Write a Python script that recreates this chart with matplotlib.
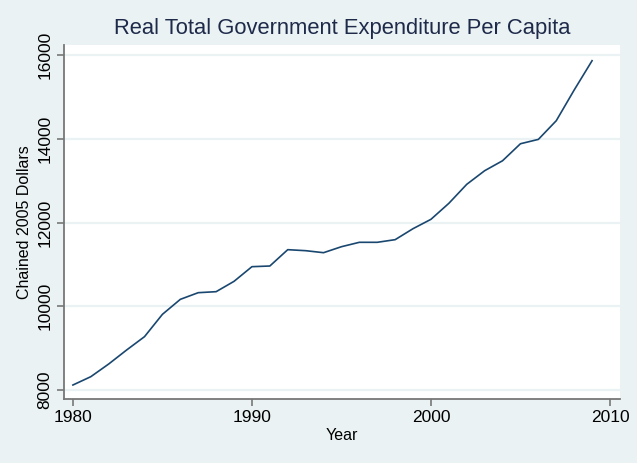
import matplotlib
matplotlib.use("Agg")
import matplotlib.pyplot as plt

years = list(range(1980, 2010))
spending = [8119, 8318, 8621, 8955, 9274, 9807, 10165, 10324, 10348, 10595,
            10945, 10961, 11351, 11327, 11279, 11422, 11527, 11527, 11590, 11853,
            12076, 12458, 12912, 13237, 13475, 13881, 13985, 14431, 15164, 15864]
xticks = [1980, 1990, 2000, 2010]
yticks = [8000, 10000, 12000, 14000, 16000]

bg = "#EAF2F3"
navy = "#1A476F"
axis_gray = "#777777"

plt.rcParams['font.family'] = ['Liberation Sans', 'DejaVu Sans']

fig = plt.figure(figsize=(6.37, 4.63), dpi=100, facecolor=bg)
ax = fig.add_axes([63.6/637, 1 - 399/463, (620 - 63.6)/637, (399 - 45)/463])
ax.set_facecolor("white")

ax.plot(years, spending, color=navy, linewidth=1.2)

ax.set_xlim(1979.48, 2010.56)
ax.set_ylim(7785, 16239)
ax.set_xticks(xticks)
ax.set_yticks(yticks)
ax.set_yticklabels([str(v) for v in yticks], rotation=90, va='center')

ax.grid(axis='y', color=bg, linewidth=1.6)
ax.set_axisbelow(True)

for s in ['top', 'right']:
    ax.spines[s].set_visible(False)
for s in ['left', 'bottom']:
    ax.spines[s].set_color(axis_gray)
    ax.spines[s].set_linewidth(1.3)

ax.tick_params(axis='both', colors=axis_gray, length=5, width=1.2, labelsize=12.5,
               labelcolor='black', pad=3)

ax.set_xlabel("Year", fontsize=11.5, labelpad=2)
ax.set_ylabel("Chained 2005 Dollars", fontsize=11.5, labelpad=4)
ax.set_title("Real Total Government Expenditure Per Capita", fontsize=15.8,
             color="#1E2A4A", pad=8)

fig.savefig("out.png", dpi=100, facecolor=bg)
